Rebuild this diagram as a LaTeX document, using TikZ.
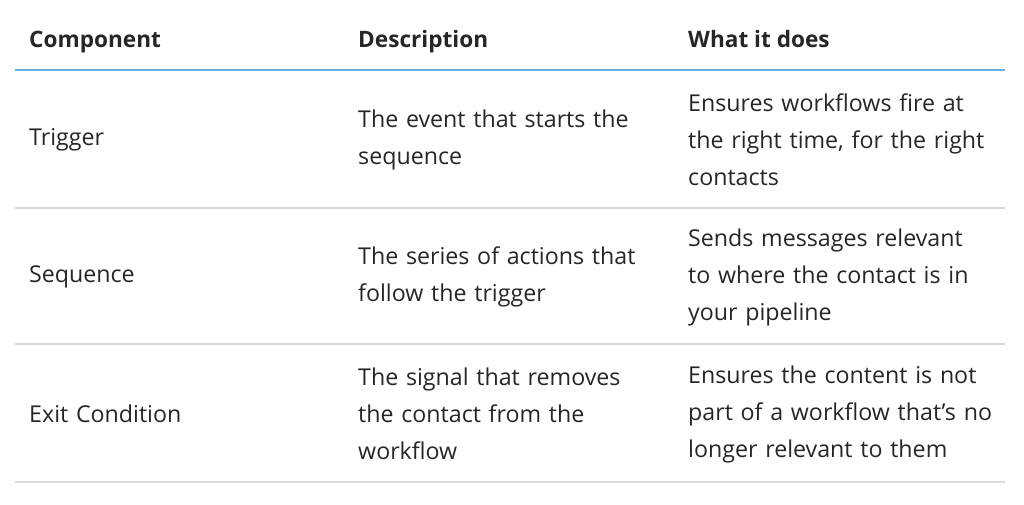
\documentclass[tikz,border=0pt]{standalone}
\usepackage{fontspec}
\setmainfont{Open Sans}
\usepackage{tikz}
\usetikzlibrary{positioning}
\definecolor{txtgray}{HTML}{262626}
\definecolor{headblue}{HTML}{6AADE0}
\definecolor{rulegray}{HTML}{D9D9D9}
\tikzset{
  cell/.style={anchor=west,inner sep=0pt,align=left,text width=320pt,text=txtgray,
    font=\fontsize{23.2}{37}\selectfont},
  head/.style={anchor=base west,inner sep=0pt,text=txtgray,
    font=\fontsize{22.6}{37}\selectfont\bfseries},
  bluerule/.style={draw=headblue,line width=2.2pt},
  rowrule/.style={draw=rulegray,line width=1.2pt}
}
\begin{document}
\begin{tikzpicture}[x=1pt,y=-1pt]
                    \useasboundingbox (0,0) rectangle (1024,504);
                    % header
                    \node[head] (hcomp) at (29,47) {Component};
                    \node[head] (hdesc) at (358,47) {Description};
                    \node[head] (hwhat) at (688,47) {What it does};
                    \coordinate (l0a) at (15,70);
                    \coordinate (l0b) at (1005,70);
                    \draw[bluerule] (l0a) -- (l0b);
                    % rows
                    \node[cell] (comp1) at (29,140) {Trigger};
                    \node[cell] (desc1) at (358,140) {The event that starts the\\sequence};
                    \node[cell] (what1) at (688,140) {Ensures workflows fire at\\the right time, for the right\\contacts};
                    \node[cell] (comp2) at (29,277) {Sequence};
                    \node[cell] (desc2) at (358,277) {The series of actions that\\follow the trigger};
                    \node[cell] (what2) at (688,277) {Sends messages relevant\\to where the contact is in\\your pipeline};
                    \node[cell] (comp3) at (29,414) {Exit Condition};
                    \node[cell] (desc3) at (358,414) {The signal that removes\\the contact from the\\workflow};
                    \node[cell] (what3) at (688,414) {Ensures the content is not\\part of a workflow that’s no\\longer relevant to them};
                    \foreach \y in {208,344,482}
                        {
                        \draw[rowrule] (15,\y) -- (1005,\y);
                    }
                \end{tikzpicture}
\end{document}
